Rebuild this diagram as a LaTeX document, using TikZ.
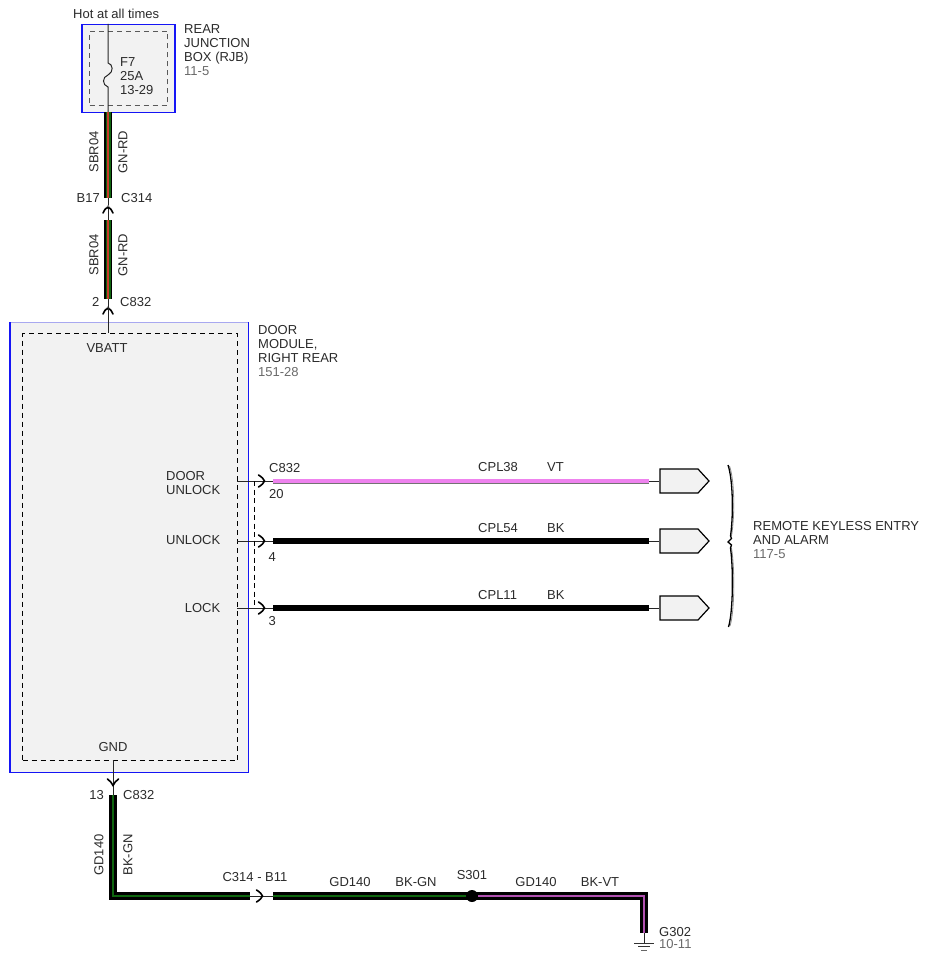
\documentclass[tikz,border=0pt]{standalone}
\usepackage{fontspec}
\setmainfont{Liberation Sans}
\usetikzlibrary{shapes.symbols}
\definecolor{txt}{HTML}{2B2B2B}
\definecolor{refc}{HTML}{6A6A6A}
\definecolor{boxfill}{HTML}{F2F2F2}
\definecolor{blueedge}{HTML}{1515F5}
\definecolor{lightedge}{HTML}{A8A8F0}
\definecolor{gnw}{HTML}{0E650E}
\definecolor{rdw}{HTML}{C83A2A}
\definecolor{pinkw}{HTML}{EE82EE}
\definecolor{vtw}{HTML}{B050B0}
\begin{document}
\begin{tikzpicture}[x=1pt,y=-1pt,
  every node/.style={text=txt,inner sep=0pt,font=\fontsize{13}{14}\selectfont},
  lbl/.style={align=left},
  refl/.style={text=refc},
  rjbbox/.style={rectangle,draw=blueedge,fill=boxfill,line width=1.5pt,anchor=north west},
  innerbox/.style={rectangle,draw=#1,dash pattern=on 5pt off 4pt,line width=1pt,anchor=north west},
  thin/.style={draw=black!85,line width=1pt},
  chev/.style={draw=black,line width=1.6pt,line cap=round},
  gnrd/.style={preaction={draw=black,line width=8pt},draw=gnw,line width=5pt,postaction={draw=rdw,line width=1.3pt}},
  bkgn/.style={preaction={draw=black,line width=8pt},draw=gnw,line width=2.6pt},
  bkvt/.style={preaction={draw=black,line width=8pt},draw=vtw,line width=2pt},
  pinkwire/.style={preaction={draw=black!55,line width=5pt},draw=pinkw,line width=3.4pt},
  bkwire/.style={draw=black,line width=6.5pt},
  plug/.style={signal,signal to=east,signal pointer angle=95,draw=black,fill=boxfill,line width=1.2pt,minimum width=49pt,minimum height=24pt},
  pinlbl/.style={anchor=east}
]
\useasboundingbox (0,0) rectangle (931,963);
\fill[white] (0,0) rectangle (931,963);

% ---------- Rear junction box ----------
\node[anchor=base west] (hot) at (73,18.6) {Hot at all times};
\node[rjbbox,minimum width=93pt,minimum height=88pt] (rjb) at (81,24) {};
\node[innerbox=black!65,minimum width=78pt,minimum height=74pt] (rjbin) at (89,31) {};
\node[lbl,anchor=north west] (rjbl) at (184,24.4) {REAR\\JUNCTION\\BOX (RJB)\\\textcolor{refc}{11-5}};
\node[lbl,anchor=north west] (fuse) at (120,57.4) {F7\\25A\\13-29};
\coordinate (ftop) at (108,24);
\coordinate (fa) at (108,63);
\coordinate (fb) at (108,87);
\coordinate (fbot) at (108,112);
\draw[thin] (ftop) -- (fa) .. controls (113,64) and (114,72) .. (108,75)
   .. controls (102,77) and (102,85) .. (fb) -- (fbot);

% ---------- SBR04 upper ----------
\coordinate (w1b) at (108,198);
\coordinate (w2t) at (108,220);
\coordinate (w2b) at (108,299);
\coordinate (vb) at (108,333);
\draw[gnrd] (fbot) -- (w1b);
\node[rotate=90] (l1a) at (94,152) {SBR04};
\node[rotate=90] (l1b) at (123,152) {GN-RD};
\node[anchor=east] (b17) at (100,198) {B17};
\node[anchor=west] (c314) at (121,198) {C314};
\draw[thin] (w1b) -- (w2t);
\fill[black!45] (108,206.5) circle (1.5pt);
\draw[chev] (103,213) .. controls (105,209) and (106,207.5) .. (108,207.5) .. controls (110,207.5) and (111,209) .. (113,213);

\draw[gnrd] (w2t) -- (w2b);
\node[rotate=90] (l2a) at (94,255) {SBR04};
\node[rotate=90] (l2b) at (123,255) {GN-RD};
\node[anchor=east] (p2) at (99.5,302) {2};
\node[anchor=west] (c832a) at (120,302) {C832};
\draw[thin] (w2b) -- (vb);
\fill[black!45] (108,307.5) circle (1.5pt);
\draw[chev] (103,314) .. controls (105,310) and (106,308.5) .. (108,308.5) .. controls (110,308.5) and (111,310) .. (113,314);

% ---------- Door module ----------
\node[rectangle,fill=boxfill,anchor=north west,minimum width=238pt,minimum height=450pt] (dm) at (10,322) {};
\draw[lightedge,line width=1pt] (dm.north west) -- (dm.north east);
\draw[blueedge,line width=1.5pt] (dm.north west) -- (dm.south west) -- (dm.south east) -- (dm.north east);
\node[innerbox=black,minimum width=215pt,minimum height=427pt] (dmin) at (22,333) {};
\draw[thin] (w2b) -- (vb);
\node (vbatt) at (107,348) {VBATT};
\node (gnd) at (113,747) {GND};
\node[lbl,anchor=north west] (dml) at (258,325.4) {DOOR\\MODULE,\\RIGHT REAR\\\textcolor{refc}{151-28}};

% pins
\node[lbl,anchor=north east] (pdu) at (220.5,471.4) {DOOR\\UNLOCK};
\node[pinlbl] (pun) at (220.5,540) {UNLOCK};
\node[pinlbl] (plk) at (220.5,608) {LOCK};

\coordinate (i1) at (237,481); \coordinate (s1) at (273,481);
\coordinate (i2) at (237,541); \coordinate (s2) at (273,541);
\coordinate (i3) at (237,608); \coordinate (s3) at (273,608);
\draw[thin] (i1) -- (s1);
\draw[thin] (i2) -- (s2);
\draw[thin] (i3) -- (s3);
\foreach \yy in {481,541,608}{
  \draw[chev] (258.5,\yy-6) .. controls (262,\yy-4) and (264,\yy-1.5) .. (264.5,\yy) .. controls (264,\yy+1.5) and (262,\yy+4) .. (258.5,\yy+6);
}
\coordinate (dtop) at (254,481); \coordinate (dbot) at (254,608);
\draw[black,line width=1pt,dash pattern=on 5pt off 3.5pt] (dtop) -- (dbot);

\node[anchor=west] (c832b) at (269,468) {C832};
\node[anchor=west] (n20) at (269,494) {20};
\node[anchor=west] (n4) at (268.5,557) {4};
\node[anchor=west] (n3) at (268.5,621) {3};

% plugs
\node[plug] (rk1) at (679,481) {};
\node[plug] (rk2) at (679,541) {};
\node[plug] (rk3) at (679,608) {};
\coordinate (e1) at (649,481);
\coordinate (e2) at (649,541);
\coordinate (e3) at (649,608);
\draw[pinkwire] (s1) -- (e1);
\draw[bkwire] (s2) -- (e2);
\draw[bkwire] (s3) -- (e3);
\draw[thin] (e1) -- (rk1.west);
\draw[thin] (e2) -- (rk2.west);
\draw[thin] (e3) -- (rk3.west);

\node[anchor=west] (cpl38) at (478,467) {CPL38};
\node[anchor=west] (vt) at (547,467) {VT};
\node[anchor=west] (cpl54) at (478,528) {CPL54};
\node[anchor=west] (bk1) at (547,528) {BK};
\node[anchor=west] (cpl11) at (478,595) {CPL11};
\node[anchor=west] (bk2) at (547,595) {BK};

% bracket
\coordinate (bt) at (728,465);
\coordinate (bm) at (728,542);
\coordinate (bb) at (728.5,627);
\draw[black!45,line width=0.8pt] (729.5,466) .. controls (734.5,480) and (735,515) .. (731.5,536)
   (731.5,548) .. controls (735,570) and (734.5,612) .. (730,626);
\draw[black,line width=1.3pt] (bt) .. controls (733,480) and (733.5,515) .. (730.5,536) -- (731.5,538.5) -- (bm) -- (731.5,545) -- (730.5,548)
   .. controls (733.5,570) and (733,612) .. (bb);
\node[lbl,anchor=north west] (rke) at (753,521.4) {REMOTE KEYLESS ENTRY\\AND ALARM\\\textcolor{refc}{117-5}};

% ---------- Ground circuit ----------
\coordinate (gtop) at (113,760);
\coordinate (g1) at (113,795);
\coordinate (gc) at (113,896);
\coordinate (g2) at (250,896);
\coordinate (g3) at (273,896);
\coordinate (s301) at (472,896);
\coordinate (gc2) at (644,896);
\coordinate (g4) at (644,933);
\coordinate (g5) at (644,943);
\draw[thin] (gtop) -- (g1);
\draw[chev] (107.5,779) .. controls (110,781) and (112,783) .. (113,785.5) .. controls (114,783) and (116,781) .. (118.5,779);
\node[anchor=east] (n13) at (104,795) {13};
\node[anchor=west] (c832c) at (123,795) {C832};
\draw[bkgn,line join=miter] (g1) -- (gc) -- (g2);
\node[rotate=90] (l3a) at (99,855) {GD140};
\node[rotate=90] (l3b) at (128,855) {BK-GN};
\draw[thin] (g2) -- (g3);
\draw[chev] (256.5,890) .. controls (260,892) and (262,894.5) .. (262.5,896) .. controls (262,897.5) and (260,900) .. (256.5,902);
\node (c314b) at (255,877) {C314 - B11};
\draw[bkgn] (g3) -- (s301);
\node (l4a) at (350,882) {GD140};
\node (l4b) at (416,882) {BK-GN};
\draw[bkvt,line join=miter] (s301) -- (gc2) -- (g4);
\fill[black] (s301) circle (6pt);
\node (s301l) at (472,875) {S301};
\node (l5a) at (536,882) {GD140};
\node (l5b) at (600,882) {BK-VT};
\draw[thin] (g4) -- (g5);
\draw[black!80,line width=1pt] (634,943) -- (654,943);
\draw[black!80,line width=1pt] (638,946.5) -- (650,946.5);
\draw[black!60,line width=1pt] (641,950) -- (647,950);
\node[anchor=west] (g302) at (659,932) {G302};
\node[anchor=west,text=refc] (g302r) at (659,944.5) {10-11};
\end{tikzpicture}
\end{document}
